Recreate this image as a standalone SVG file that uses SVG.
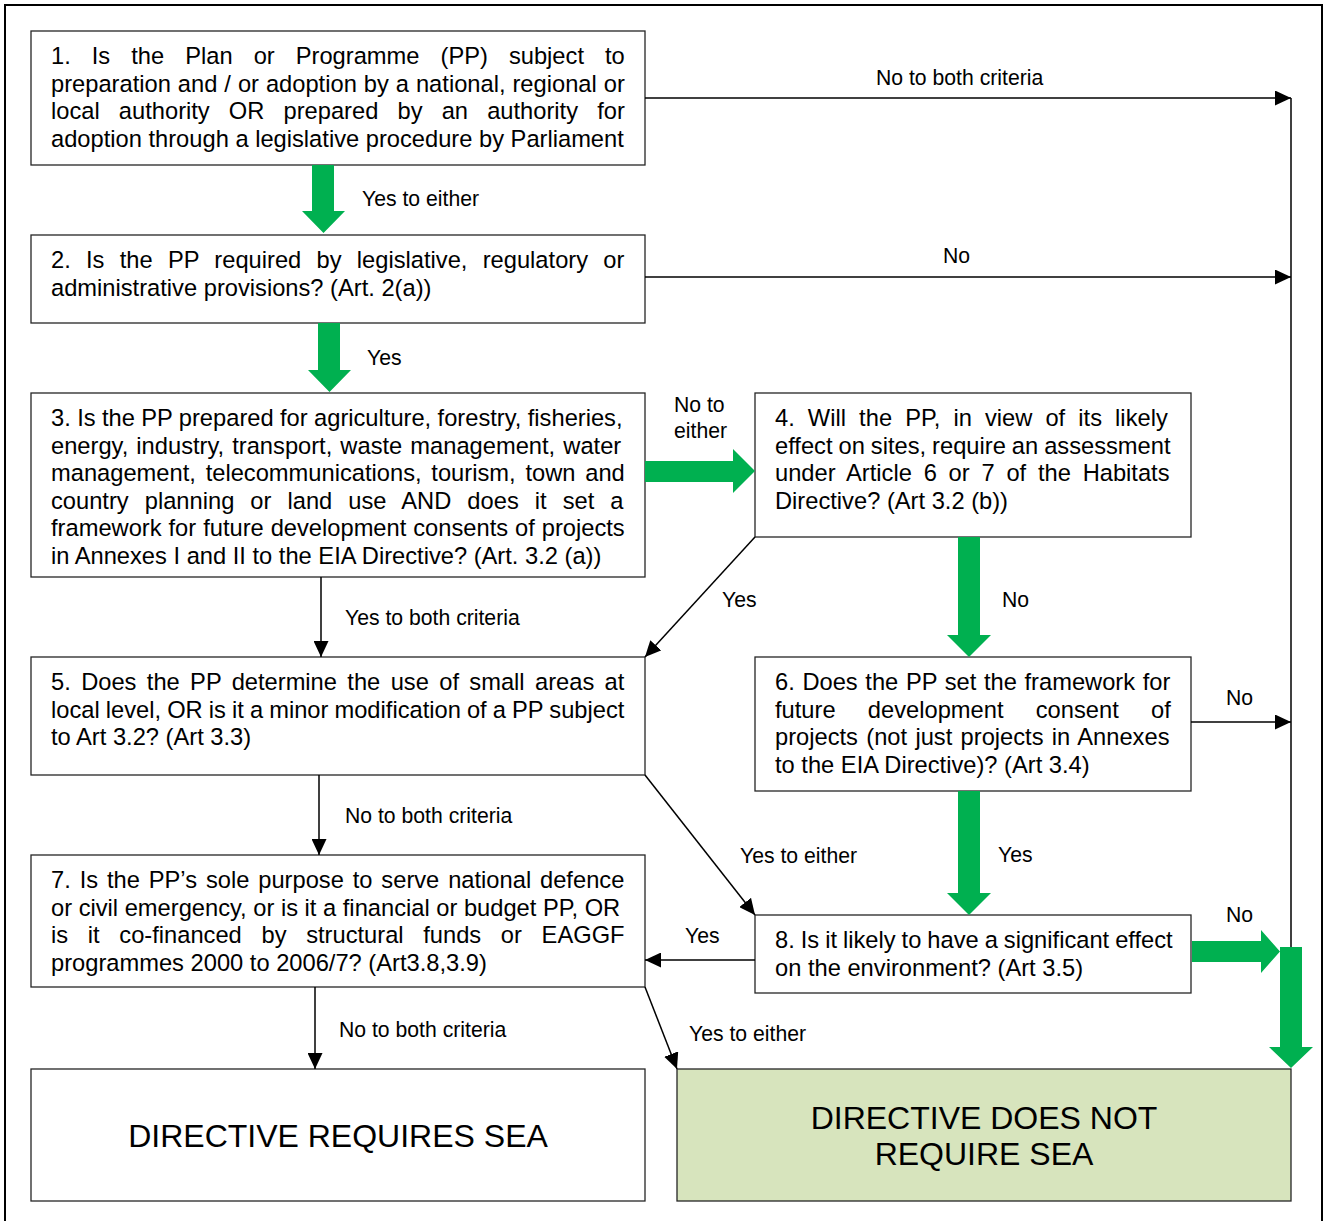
<svg xmlns="http://www.w3.org/2000/svg" width="1325" height="1221" viewBox="0 0 1325 1221">
<style>
.box{fill:#fff;stroke:#262626;stroke-width:1.3}
.end{fill:#D7E4BD;stroke:#262626;stroke-width:1.3}
.t{font-family:"Liberation Sans",Arial,sans-serif;font-size:23.7px;fill:#000}
.lb{font-family:"Liberation Sans",Arial,sans-serif;font-size:21.2px;fill:#000}
.big{font-family:"Liberation Sans",Arial,sans-serif;font-size:32px;fill:#000;text-anchor:middle}
.ln{stroke:#000;stroke-width:1.5;fill:none}
.ga{fill:#00B050}
</style>
<defs>
<marker id="ah" markerUnits="userSpaceOnUse" markerWidth="16" markerHeight="15" refX="16" refY="7.5" orient="auto">
<path d="M0,0 L16,7.5 L0,15 z" fill="#000"/>
</marker>
</defs>
<rect x="5" y="5" width="1317" height="1240" fill="#fff" stroke="#000" stroke-width="2"/>

<g id="n1">
<rect class="box" x="31" y="31" width="614" height="134"/>
<text class="t"><tspan x="51" y="64" word-spacing="14.45">1. Is the Plan or Programme (PP) subject to</tspan><tspan x="51" y="91.6" word-spacing="0.4">preparation and / or adoption by a national, regional or</tspan><tspan x="51" y="119.2" word-spacing="12.56">local authority OR prepared by an authority for</tspan><tspan x="51" y="146.8">adoption through a legislative procedure by Parliament</tspan></text>
</g>
<g id="n2">
<rect class="box" x="31" y="235" width="614" height="88"/>
<text class="t"><tspan x="51" y="268" word-spacing="8.69">2. Is the PP required by legislative, regulatory or</tspan><tspan x="51" y="295.6">administrative provisions? (Art. 2(a))</tspan></text>
</g>
<g id="n3">
<rect class="box" x="31" y="393" width="614" height="184"/>
<text class="t"><tspan x="51" y="426" word-spacing="-0.2">3. Is the PP prepared for agriculture, forestry, fisheries,</tspan><tspan x="51" y="453.6" word-spacing="1.52">energy, industry, transport, waste management, water</tspan><tspan x="51" y="481.2" word-spacing="3.22">management, telecommunications, tourism, town and</tspan><tspan x="51" y="508.8" word-spacing="9.48">country planning or land use AND does it set a</tspan><tspan x="51" y="536.4" word-spacing="0.38">framework for future development consents of projects</tspan><tspan x="51" y="564">in Annexes I and II to the EIA Directive? (Art. 3.2 (a))</tspan></text>
</g>
<g id="n4">
<rect class="box" x="755" y="393" width="436" height="144"/>
<text class="t"><tspan x="775" y="426" word-spacing="6.53">4. Will the PP, in view of its likely</tspan><tspan x="775" y="453.6" word-spacing="-0.6">effect on sites, require an assessment</tspan><tspan x="775" y="481.2" word-spacing="5.2">under Article 6 or 7 of the Habitats</tspan><tspan x="775" y="508.8">Directive? (Art 3.2 (b))</tspan></text>
</g>
<g id="n5">
<rect class="box" x="31" y="657" width="614" height="118"/>
<text class="t"><tspan x="51" y="690" word-spacing="3.79">5. Does the PP determine the use of small areas at</tspan><tspan x="51" y="717.6" word-spacing="-0.5">local level, OR is it a minor modification of a PP subject</tspan><tspan x="51" y="745.2">to Art 3.2? (Art 3.3)</tspan></text>
</g>
<g id="n6">
<rect class="box" x="755" y="657" width="436" height="134"/>
<text class="t"><tspan x="775" y="690" word-spacing="1.06">6. Does the PP set the framework for</tspan><tspan x="775" y="717.6" word-spacing="25.7">future development consent of</tspan><tspan x="775" y="745.2" word-spacing="1.74">projects (not just projects in Annexes</tspan><tspan x="775" y="772.8">to the EIA Directive)? (Art 3.4)</tspan></text>
</g>
<g id="n7">
<rect class="box" x="31" y="855" width="614" height="132"/>
<text class="t"><tspan x="51" y="888" word-spacing="2.3">7. Is the PP’s sole purpose to serve national defence</tspan><tspan x="51" y="915.6">or civil emergency, or is it a financial or budget PP, OR</tspan><tspan x="51" y="943.2" word-spacing="13.1">is it co-financed by structural funds or EAGGF</tspan><tspan x="51" y="970.8">programmes 2000 to 2006/7? (Art3.8,3.9)</tspan></text>
</g>
<g id="n8">
<rect class="box" x="755" y="915" width="436" height="78"/>
<text class="t"><tspan x="775" y="948" word-spacing="-0.6">8. Is it likely to have a significant effect</tspan><tspan x="775" y="975.6">on the environment? (Art 3.5)</tspan></text>
</g>
<g id="req">
<rect class="box" x="31" y="1069" width="614" height="132"/>
<text class="big" x="338" y="1147">DIRECTIVE REQUIRES SEA</text>
</g>
<g id="noreq">
<rect class="end" x="677" y="1069" width="614" height="132"/>
<text class="big"><tspan x="984" y="1129">DIRECTIVE DOES NOT</tspan><tspan x="984" y="1165">REQUIRE SEA</tspan></text>
</g>

<g id="connectors">
<line class="ln" x1="645" y1="98" x2="1291" y2="98" marker-end="url(#ah)"/>
<line class="ln" x1="645" y1="277" x2="1291" y2="277" marker-end="url(#ah)"/>
<line class="ln" x1="1191" y1="722" x2="1291" y2="722" marker-end="url(#ah)"/>
<line class="ln" x1="1291" y1="98" x2="1291" y2="948"/>
<line class="ln" x1="321" y1="577" x2="321" y2="657" marker-end="url(#ah)"/>
<line class="ln" x1="319" y1="775" x2="319" y2="855" marker-end="url(#ah)"/>
<line class="ln" x1="315" y1="987" x2="315" y2="1069" marker-end="url(#ah)"/>
<line class="ln" x1="755" y1="537" x2="645" y2="657" marker-end="url(#ah)"/>
<line class="ln" x1="645" y1="775" x2="755" y2="915" marker-end="url(#ah)"/>
<line class="ln" x1="755" y1="960" x2="645" y2="960" marker-end="url(#ah)"/>
<line class="ln" x1="645" y1="987" x2="677" y2="1069" marker-end="url(#ah)"/>

<polygon class="ga" points="312,165 334,165 334,211 345,211 323.5,233 302,211 312,211"/>
<polygon class="ga" points="318,323 340,323 340,370 351,370 329.5,392 308,370 318,370"/>
<polygon class="ga" points="645,461 733,461 733,449 755,471 733,493 733,482 645,482"/>
<polygon class="ga" points="958,537 980,537 980,635 991,635 969,657 947,635 958,635"/>
<polygon class="ga" points="958,791 980,791 980,893 991,893 969,915 947,893 958,893"/>
<polygon class="ga" points="1192,941 1261,941 1261,930 1280,951.5 1261,973 1261,962 1192,962"/>
<polygon class="ga" points="1280,947 1302,947 1302,1047 1313,1047 1291,1068 1269,1047 1280,1047"/>

<text class="lb" x="876" y="84.5">No to both criteria</text>
<text class="lb" x="362" y="205.5">Yes to either</text>
<text class="lb" x="943" y="262.5">No</text>
<text class="lb" x="367" y="364.5">Yes</text>
<text class="lb"><tspan x="674" y="411.5">No to</tspan><tspan x="674" y="437.5">either</tspan></text>
<text class="lb" x="345" y="624.5">Yes to both criteria</text>
<text class="lb" x="722" y="606.5">Yes</text>
<text class="lb" x="1002" y="606.5">No</text>
<text class="lb" x="1226" y="704.5">No</text>
<text class="lb" x="345" y="822.5">No to both criteria</text>
<text class="lb" x="740" y="862.5">Yes to either</text>
<text class="lb" x="998" y="861.5">Yes</text>
<text class="lb" x="685" y="942.5">Yes</text>
<text class="lb" x="1226" y="921.5">No</text>
<text class="lb" x="339" y="1036.5">No to both criteria</text>
<text class="lb" x="689" y="1040.5">Yes to either</text>
</g>
</svg>
